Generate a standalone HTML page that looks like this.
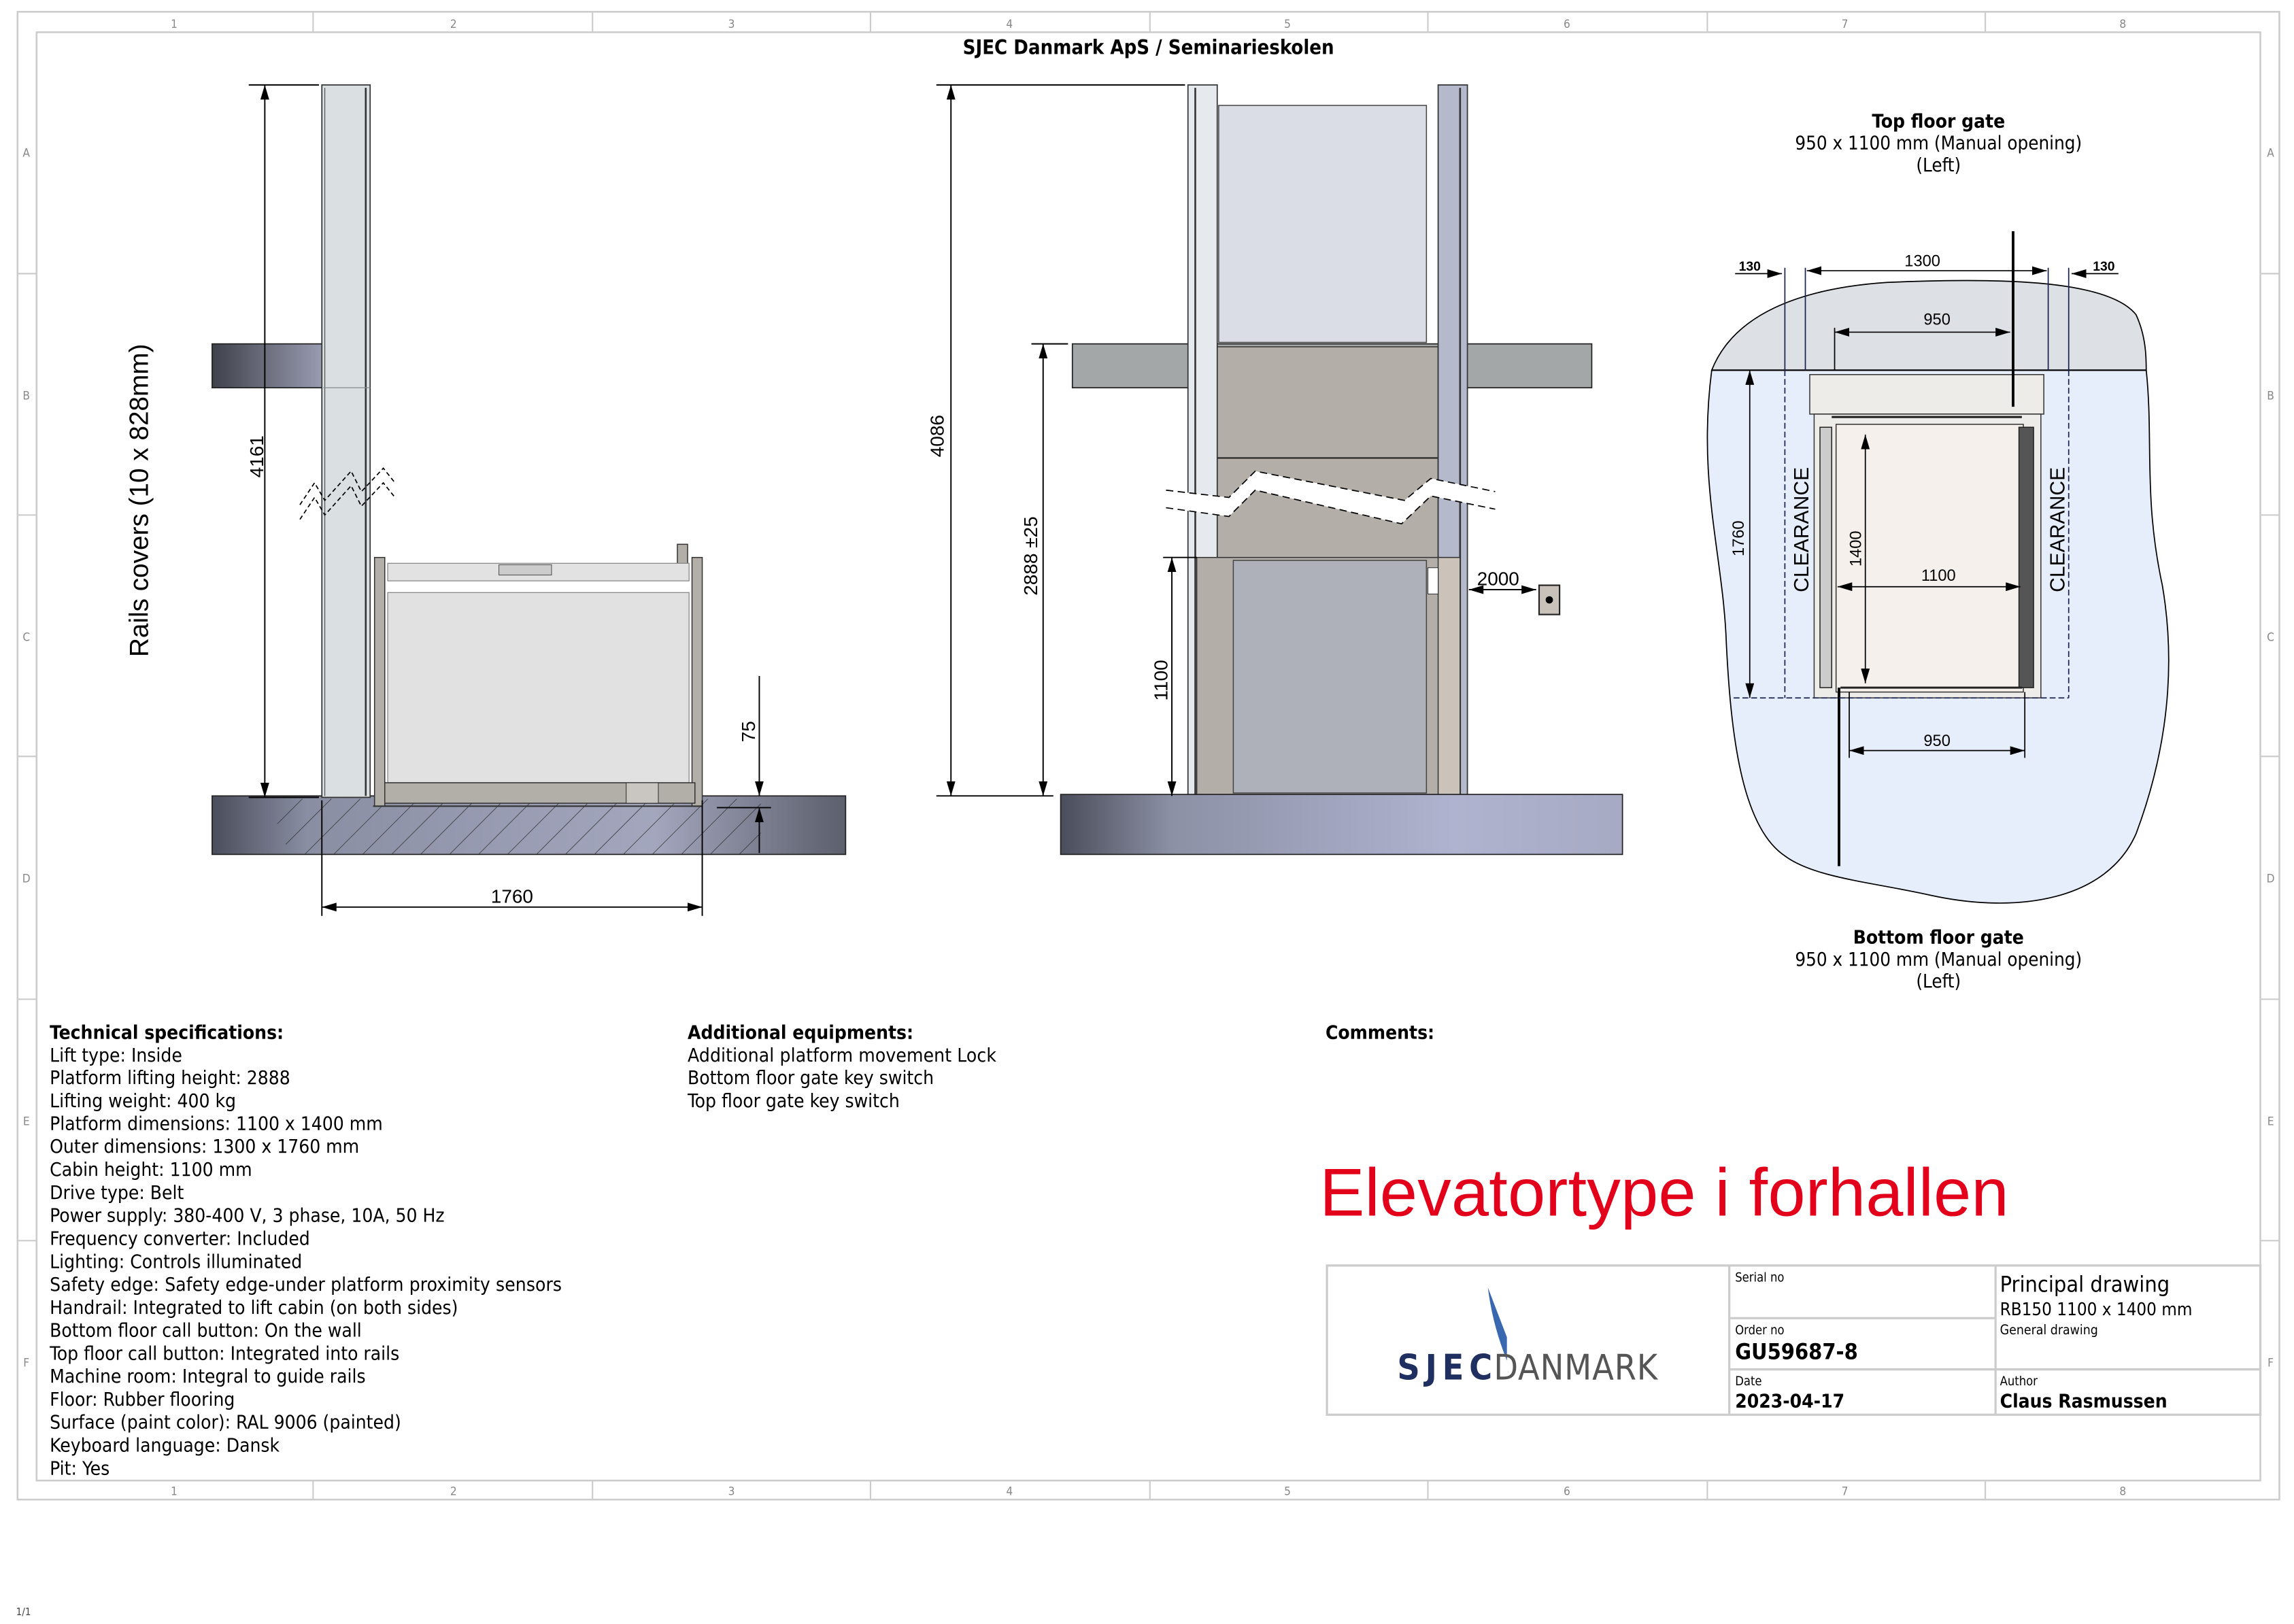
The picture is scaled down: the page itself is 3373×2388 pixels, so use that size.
<!DOCTYPE html>
<html><head><meta charset="utf-8"><style>
html,body{margin:0;padding:0;background:#fff;}
svg{display:block;}
.t{font-family:"DejaVu Sans Condensed","DejaVu Sans","Liberation Sans",sans-serif;font-stretch:condensed;}
.a{font-family:"Liberation Sans",Arial,sans-serif;}
</style></head><body>
<svg width="3373" height="2388" viewBox="0 0 1568 1110" xmlns="http://www.w3.org/2000/svg">
<defs>
<linearGradient id="sl" x1="0" x2="1"><stop offset="0" stop-color="#4a4d5a"/><stop offset="0.15" stop-color="#8a8ea3"/><stop offset="0.7" stop-color="#a3a6bd"/><stop offset="1" stop-color="#5c5f6c"/></linearGradient>
<linearGradient id="sl2" x1="0" x2="1"><stop offset="0" stop-color="#4a4d5a"/><stop offset="0.2" stop-color="#8d91a6"/><stop offset="0.7" stop-color="#b0b3cf"/><stop offset="1" stop-color="#a7aac3"/></linearGradient>
<linearGradient id="sb" x1="0" x2="1"><stop offset="0" stop-color="#3f414b"/><stop offset="1" stop-color="#9a9db1"/></linearGradient>
<pattern id="hatch" width="14" height="14" patternUnits="userSpaceOnUse" patternTransform="rotate(45)"><line x1="0" y1="0" x2="0" y2="14" stroke="#333" stroke-width="0.8"/></pattern>
<marker id="ar" markerWidth="10" markerHeight="6" refX="10" refY="3" orient="auto" markerUnits="userSpaceOnUse"><path d="M0,0 L10,3 L0,6z" fill="#000"/></marker>
<marker id="al" markerWidth="10" markerHeight="6" refX="0" refY="3" orient="auto" markerUnits="userSpaceOnUse"><path d="M10,0 L0,3 L10,6z" fill="#000"/></marker>
</defs>
<!-- frame -->
<rect x="12" y="8" width="1546" height="1017" fill="none" stroke="#ccc" stroke-width="1.2"/>
<rect x="25" y="22" width="1520" height="990" fill="none" stroke="#ccc" stroke-width="1.2"/>
<g stroke="#ccc" stroke-width="1">
<line x1="214" y1="8" x2="214" y2="22"/><line x1="405" y1="8" x2="405" y2="22"/><line x1="595" y1="8" x2="595" y2="22"/><line x1="786" y1="8" x2="786" y2="22"/><line x1="976" y1="8" x2="976" y2="22"/><line x1="1167" y1="8" x2="1167" y2="22"/><line x1="1357" y1="8" x2="1357" y2="22"/>
<line x1="214" y1="1012" x2="214" y2="1025"/><line x1="405" y1="1012" x2="405" y2="1025"/><line x1="595" y1="1012" x2="595" y2="1025"/><line x1="786" y1="1012" x2="786" y2="1025"/><line x1="976" y1="1012" x2="976" y2="1025"/><line x1="1167" y1="1012" x2="1167" y2="1025"/><line x1="1357" y1="1012" x2="1357" y2="1025"/>
<line x1="12" y1="187" x2="25" y2="187"/><line x1="12" y1="352" x2="25" y2="352"/><line x1="12" y1="517" x2="25" y2="517"/><line x1="12" y1="683" x2="25" y2="683"/><line x1="12" y1="848" x2="25" y2="848"/>
<line x1="1545" y1="187" x2="1558" y2="187"/><line x1="1545" y1="352" x2="1558" y2="352"/><line x1="1545" y1="517" x2="1558" y2="517"/><line x1="1545" y1="683" x2="1558" y2="683"/><line x1="1545" y1="848" x2="1558" y2="848"/>
</g>
<g class="t" font-size="8" fill="#888" text-anchor="middle">
<text x="119" y="19">1</text><text x="310" y="19">2</text><text x="500" y="19">3</text><text x="690" y="19">4</text><text x="880" y="19">5</text><text x="1071" y="19">6</text><text x="1261" y="19">7</text><text x="1451" y="19">8</text>
<text x="119" y="1022">1</text><text x="310" y="1022">2</text><text x="500" y="1022">3</text><text x="690" y="1022">4</text><text x="880" y="1022">5</text><text x="1071" y="1022">6</text><text x="1261" y="1022">7</text><text x="1451" y="1022">8</text>
<text x="18" y="107">A</text><text x="18" y="273">B</text><text x="18" y="438">C</text><text x="18" y="603">D</text><text x="18" y="769">E</text><text x="18" y="934">F</text>
<text x="1552" y="107">A</text><text x="1552" y="273">B</text><text x="1552" y="438">C</text><text x="1552" y="603">D</text><text x="1552" y="769">E</text><text x="1552" y="934">F</text>
</g>
<text class="t" x="785" y="37" font-size="13.5" font-weight="bold" text-anchor="middle">SJEC Danmark ApS / Seminarieskolen</text>

<!-- LEFT VIEW -->
<rect x="145" y="235" width="76" height="30" fill="url(#sb)" stroke="#222" stroke-width="0.8"/>
<rect x="145" y="544" width="433" height="40" fill="url(#sl)" stroke="#222" stroke-width="0.8"/>
<path d="M190,546 Q185,565 200,584 L520,584 L520,546 Z" fill="url(#hatch)" opacity="0.9"/>
<rect x="220" y="58" width="33" height="487" fill="#dadfe1" stroke="#333" stroke-width="0.8"/>
<line x1="222" y1="60" x2="222" y2="544" stroke="#555" stroke-width="0.6"/>
<line x1="250" y1="60" x2="250" y2="544" stroke="#333" stroke-width="1.2"/>
<line x1="221" y1="265" x2="253" y2="265" stroke="#888" stroke-width="0.6"/>
<path d="M205,345 L215,330 L222,342 L240,322 L247,336 L262,320 L270,330" fill="none" stroke="#000" stroke-dasharray="3,2" stroke-width="0.8"/>
<path d="M205,355 L215,340 L222,352 L240,332 L247,346 L262,330 L270,340" fill="none" stroke="#000" stroke-dasharray="3,2" stroke-width="0.8"/>
<!-- cabin -->
<rect x="256" y="381" width="7" height="170" fill="#b2aea8" stroke="#333" stroke-width="0.7"/>
<rect x="473" y="381" width="7" height="170" fill="#b2aea8" stroke="#333" stroke-width="0.7"/>
<rect x="463" y="372" width="7" height="14" fill="#b2aea8" stroke="#333" stroke-width="0.7"/>
<rect x="265" y="385" width="206" height="12" fill="#e2e2e2" stroke="#888" stroke-width="0.6"/>
<rect x="265" y="405" width="206" height="130" fill="#e1e1e1" stroke="#888" stroke-width="0.6"/>
<rect x="341" y="386" width="36" height="7" fill="#ccc" stroke="#555" stroke-width="0.5"/>
<rect x="263" y="535" width="212" height="14" fill="#b2aea8" stroke="#333" stroke-width="0.7"/>
<rect x="428" y="535" width="22" height="14" fill="#c9c6c2" stroke="#333" stroke-width="0.5"/>
<line x1="255" y1="551" x2="480" y2="551" stroke="#333" stroke-width="1"/>
<!-- dims left -->
<g stroke="#000" stroke-width="0.9" fill="none">
<line x1="170" y1="58" x2="218" y2="58"/><line x1="170" y1="545" x2="218" y2="545"/>
<line x1="181" y1="58" x2="181" y2="545" marker-start="url(#al)" marker-end="url(#ar)"/>
<line x1="220" y1="547" x2="220" y2="626"/><line x1="480" y1="547" x2="480" y2="626"/>
<line x1="220" y1="620" x2="480" y2="620" marker-start="url(#al)" marker-end="url(#ar)"/>
<line x1="519" y1="462" x2="519" y2="544" marker-end="url(#ar)"/>
<line x1="519" y1="583" x2="519" y2="552" marker-end="url(#ar)"/>
<line x1="490" y1="552" x2="527" y2="552"/>
</g>
<text class="a" x="0" y="0" font-size="13" text-anchor="middle" transform="translate(180,312) rotate(-90)">4161</text>
<text class="a" x="0" y="0" font-size="13" text-anchor="middle" transform="translate(516,500) rotate(-90)">75</text>
<text class="a" x="350" y="617" font-size="13" text-anchor="middle">1760</text>
<text class="a" x="0" y="0" font-size="18" text-anchor="middle" transform="translate(101,342) rotate(-90)">Rails covers (10 x 828mm)</text>

<!-- MIDDLE VIEW -->
<rect x="733" y="235" width="355" height="30" fill="#a4a7a8" stroke="#222" stroke-width="0.8"/>
<rect x="832" y="237" width="151" height="307" fill="#b3aea8" stroke="#333" stroke-width="0.7"/>
<line x1="832" y1="313" x2="983" y2="313" stroke="#222" stroke-width="1"/>
<rect x="833" y="72" width="142" height="162" fill="#dadde6" stroke="#444" stroke-width="0.7"/>
<rect x="812" y="58" width="20" height="487" fill="#e6e9ee" stroke="#333" stroke-width="0.8"/>
<line x1="817" y1="60" x2="817" y2="544" stroke="#333" stroke-width="1.2"/>
<rect x="983" y="58" width="20" height="487" fill="#b4bacb" stroke="#333" stroke-width="0.8"/>
<line x1="998" y1="60" x2="998" y2="544" stroke="#333" stroke-width="1.2"/>
<path d="M797,335 L840,340 L858,322 L960,342 L978,327 L1022,336 L1022,348 L978,339 L958,358 L858,335 L840,353 L797,347 Z" fill="#fff"/>
<path d="M797,335 L840,340 L858,322 L960,342 L978,327 L1022,336" fill="none" stroke="#000" stroke-dasharray="5,3" stroke-width="0.8"/>
<path d="M797,347 L840,353 L858,335 L958,358 L978,339 L1022,348" fill="none" stroke="#000" stroke-dasharray="5,3" stroke-width="0.8"/>
<rect x="818" y="381" width="180" height="163" fill="#b3aea8" stroke="#333" stroke-width="0.7"/>
<rect x="843" y="383" width="132" height="159" fill="#aeb0ba" stroke="#444" stroke-width="0.7"/>
<rect x="983" y="381" width="15" height="163" fill="#cbc3ba" stroke="#333" stroke-width="0.7"/>
<rect x="976" y="388" width="7" height="18" fill="#fff" stroke="#333" stroke-width="0.5"/>
<rect x="725" y="543" width="384" height="41" fill="url(#sl2)" stroke="#222" stroke-width="0.8"/>
<rect x="1052" y="400" width="14" height="20" fill="#c9c2ba" stroke="#222" stroke-width="1"/>
<circle cx="1059" cy="410" r="2.5" fill="#000"/>
<g stroke="#000" stroke-width="0.9" fill="none">
<line x1="640" y1="58" x2="810" y2="58"/><line x1="640" y1="544" x2="720" y2="544"/>
<line x1="650" y1="58" x2="650" y2="544" marker-start="url(#al)" marker-end="url(#ar)"/>
<line x1="705" y1="235" x2="730" y2="235"/>
<line x1="713" y1="235" x2="713" y2="544" marker-start="url(#al)" marker-end="url(#ar)"/>
<line x1="795" y1="381" x2="818" y2="381"/>
<line x1="801" y1="381" x2="801" y2="544" marker-start="url(#al)" marker-end="url(#ar)"/>
<line x1="1004" y1="403" x2="1050" y2="403" marker-start="url(#al)" marker-end="url(#ar)"/>
</g>
<text class="a" x="0" y="0" font-size="13" text-anchor="middle" transform="translate(645,298) rotate(-90)">4086</text>
<text class="a" x="0" y="0" font-size="13" text-anchor="middle" transform="translate(709,380) rotate(-90)">2888 ±25</text>
<text class="a" x="0" y="0" font-size="13" text-anchor="middle" transform="translate(798,465) rotate(-90)">1100</text>
<text class="a" x="1024" y="400" font-size="13" text-anchor="middle">2000</text>

<!-- RIGHT PLAN -->
<text class="t" x="1325" y="87" font-size="13" font-weight="bold" text-anchor="middle">Top floor gate</text>
<text class="t" x="1325" y="102" font-size="12.8" text-anchor="middle">950 x 1100 mm (Manual opening)</text>
<text class="t" x="1325" y="117" font-size="12.8" text-anchor="middle">(Left)</text>
<path d="M1170,253 C1185,215 1230,197 1290,193 C1360,190 1440,190 1460,215 C1467,230 1467,245 1467,253 Z" fill="#dde1e5" stroke="#000" stroke-width="0.8"/>
<path d="M1170,253 L1467,253 C1472,300 1465,340 1478,400 C1490,470 1475,530 1460,570 C1440,615 1380,625 1320,612 C1280,603 1240,600 1220,585 C1190,565 1183,500 1180,440 C1178,380 1160,330 1170,253 Z" fill="#e6eefb" stroke="#000" stroke-width="0.8"/>
<rect x="1237" y="256" width="160" height="27" fill="#eeece9" stroke="#333" stroke-width="0.7"/>
<rect x="1240" y="283" width="155" height="194" fill="#eeece9" stroke="#333" stroke-width="0.7"/>
<rect x="1255" y="290" width="128" height="183" fill="#f5f0eb" stroke="#333" stroke-width="0.7"/>
<rect x="1244" y="292" width="8" height="178" fill="#ccc" stroke="#222" stroke-width="0.7"/>
<rect x="1380" y="292" width="10" height="178" fill="#555" stroke="#222" stroke-width="0.7"/>
<line x1="1252" y1="285" x2="1382" y2="285" stroke="#222" stroke-width="1.4"/>
<line x1="1258" y1="470" x2="1382" y2="470" stroke="#222" stroke-width="1.4"/>
<line x1="1170" y1="253" x2="1467" y2="253" stroke="#000" stroke-width="1"/>
<g stroke="#000" stroke-width="1.8"><line x1="1376" y1="158" x2="1376" y2="278"/><line x1="1257" y1="470" x2="1257" y2="592"/></g>
<g stroke="#1a2450" stroke-width="0.8" fill="none">
<line x1="1220" y1="183" x2="1220" y2="253"/><line x1="1234" y1="183" x2="1234" y2="253"/>
<line x1="1400" y1="183" x2="1400" y2="253"/><line x1="1414" y1="183" x2="1414" y2="253"/>
<line x1="1220" y1="253" x2="1220" y2="477" stroke-dasharray="4,2"/>
<line x1="1414" y1="253" x2="1414" y2="477" stroke-dasharray="4,2"/>
<line x1="1185" y1="477" x2="1414" y2="477" stroke-dasharray="4,2"/>
</g>
<g stroke="#000" stroke-width="0.8" fill="none">
<line x1="1186" y1="187" x2="1218" y2="187" marker-end="url(#ar)"/>
<line x1="1448" y1="187" x2="1416" y2="187" marker-end="url(#ar)"/>
<line x1="1235" y1="185" x2="1399" y2="185" marker-start="url(#al)" marker-end="url(#ar)"/>
<line x1="1254" y1="224" x2="1254" y2="253"/>
<line x1="1254" y1="227" x2="1374" y2="227" marker-start="url(#al)" marker-end="url(#ar)"/>
<line x1="1196" y1="253" x2="1196" y2="477" marker-start="url(#al)" marker-end="url(#ar)"/>
<line x1="1275" y1="297" x2="1275" y2="467" marker-start="url(#al)" marker-end="url(#ar)"/>
<line x1="1256" y1="401" x2="1381" y2="401" marker-start="url(#al)" marker-end="url(#ar)"/>
<line x1="1264" y1="473" x2="1264" y2="518"/><line x1="1384" y1="473" x2="1384" y2="518"/>
<line x1="1264" y1="513" x2="1384" y2="513" marker-start="url(#al)" marker-end="url(#ar)"/>
</g>
<g class="a" text-anchor="middle" font-size="11">
<text x="1196" y="185" font-size="9" font-weight="bold">130</text>
<text x="1438" y="185" font-size="9" font-weight="bold">130</text>
<text x="1314" y="182">1300</text>
<text x="1324" y="222">950</text>
<text x="1325" y="397">1100</text>
<text x="1324" y="510">950</text>
<text transform="translate(1192,368) rotate(-90)">1760</text>
<text transform="translate(1272,375) rotate(-90)">1400</text>
<text transform="translate(1236,362) rotate(-90)" font-size="14">CLEARANCE</text>
<text transform="translate(1411,362) rotate(-90)" font-size="14">CLEARANCE</text>
</g>
<text class="t" x="1325" y="645" font-size="13" font-weight="bold" text-anchor="middle">Bottom floor gate</text>
<text class="t" x="1325" y="660" font-size="12.8" text-anchor="middle">950 x 1100 mm (Manual opening)</text>
<text class="t" x="1325" y="675" font-size="12.8" text-anchor="middle">(Left)</text>

<!-- SPECS -->
<g class="t" font-size="13">
<text x="34" y="710" font-weight="bold">Technical specifications:</text>
<text x="34" y="725.5">Lift type: Inside</text>
<text x="34" y="741">Platform lifting height: 2888</text>
<text x="34" y="756.7">Lifting weight: 400 kg</text>
<text x="34" y="772.4">Platform dimensions: 1100 x 1400 mm</text>
<text x="34" y="788">Outer dimensions: 1300 x 1760 mm</text>
<text x="34" y="803.8">Cabin height: 1100 mm</text>
<text x="34" y="819.5">Drive type: Belt</text>
<text x="34" y="835.2">Power supply: 380-400 V, 3 phase, 10A, 50 Hz</text>
<text x="34" y="851">Frequency converter: Included</text>
<text x="34" y="866.6">Lighting: Controls illuminated</text>
<text x="34" y="882.3" textLength="350">Safety edge: Safety edge-under platform proximity sensors</text>
<text x="34" y="898">Handrail: Integrated to lift cabin (on both sides)</text>
<text x="34" y="913.7">Bottom floor call button: On the wall</text>
<text x="34" y="929.4">Top floor call button: Integrated into rails</text>
<text x="34" y="945">Machine room: Integral to guide rails</text>
<text x="34" y="960.8">Floor: Rubber flooring</text>
<text x="34" y="976.5">Surface (paint color): RAL 9006 (painted)</text>
<text x="34" y="992.2">Keyboard language: Dansk</text>
<text x="34" y="1007.9">Pit: Yes</text>
<text x="470" y="710" font-weight="bold">Additional equipments:</text>
<text x="470" y="725.5" textLength="211">Additional platform movement Lock</text>
<text x="470" y="741">Bottom floor gate key switch</text>
<text x="470" y="756.7">Top floor gate key switch</text>
<text x="906" y="710" font-weight="bold">Comments:</text>
</g>
<text class="a" x="902" y="831" font-size="46" fill="#e3001b" textLength="471">Elevatortype i forhallen</text>

<!-- TITLE BLOCK -->
<g fill="none" stroke="#ccc" stroke-width="1.5">
<rect x="907" y="865" width="638" height="102"/>
<line x1="1182" y1="865" x2="1182" y2="967"/><line x1="1364" y1="865" x2="1364" y2="967"/>
<line x1="1182" y1="901" x2="1364" y2="901"/><line x1="1182" y1="936" x2="1545" y2="936"/>
</g>
<path d="M1017,880 L1030,914 L1030,930 Q1020,905 1017,880Z" fill="#3a68b0"/>
<text class="t" x="955" y="943" font-size="24" fill="#1f3060" font-weight="bold" textLength="65">SJEC</text>
<text class="t" x="1021" y="943" font-size="24" fill="#555" textLength="112">DANMARK</text>
<g class="t">
<text x="1186" y="876" font-size="8.5">Serial no</text>
<text x="1186" y="912" font-size="8.5">Order no</text>
<text x="1186" y="929" font-size="15" font-weight="bold">GU59687-8</text>
<text x="1186" y="947" font-size="8.5">Date</text>
<text x="1186" y="962" font-size="13" font-weight="bold">2023-04-17</text>
<text x="1367" y="883" font-size="15">Principal drawing</text>
<text x="1367" y="899" font-size="12">RB150 1100 x 1400 mm</text>
<text x="1367" y="912" font-size="9">General drawing</text>
<text x="1367" y="947" font-size="8.5">Author</text>
<text x="1367" y="962" font-size="13" font-weight="bold">Claus Rasmussen</text>
</g>
<text class="t" x="11" y="1104" font-size="7" fill="#444">1/1</text>
</svg>
</body></html>
